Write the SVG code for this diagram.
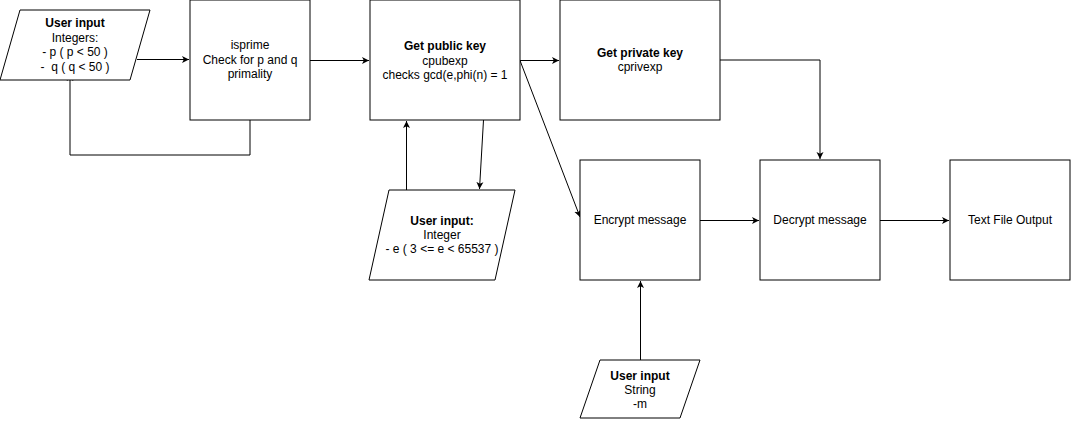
<svg xmlns="http://www.w3.org/2000/svg" width="1071" height="421" viewBox="0 0 1071 421">
<style>
.n{fill:#fff;stroke:#000;stroke-width:1}
.c{fill:none;stroke:#000;stroke-width:1}
text{font-family:"Liberation Sans",Arial,sans-serif;font-size:12px;fill:#000;text-anchor:middle}
.b{font-weight:bold}
</style>
<defs>
<marker id="a" viewBox="0 0 8 8" refX="7" refY="4" markerWidth="8" markerHeight="8" markerUnits="userSpaceOnUse" orient="auto">
<path d="M0,0.5 L7,4 L0,7.5 L1.8,4 Z" fill="#000"/>
</marker>
</defs>
<rect width="1071" height="421" fill="#fff"/>
<g id="connectors">
<path class="c" d="M137,59.5 H189" marker-end="url(#a)"/>
<path class="c" d="M250,120 V155 H70 V74" marker-end="url(#a)"/>
<path class="c" d="M310,60.5 H369" marker-end="url(#a)"/>
<path class="c" d="M520,60.5 H559" marker-end="url(#a)"/>
<path class="c" d="M520,60.5 L580,217" marker-end="url(#a)"/>
<path class="c" d="M406.5,190 V121" marker-end="url(#a)"/>
<path class="c" d="M483.5,120 L479.5,189" marker-end="url(#a)"/>
<path class="c" d="M720,60 H820 V159" marker-end="url(#a)"/>
<path class="c" d="M700,220.5 H759" marker-end="url(#a)"/>
<path class="c" d="M880,220.5 H949" marker-end="url(#a)"/>
<path class="c" d="M640.5,360 V281" marker-end="url(#a)"/>
</g>
<g id="input-pq">
<path class="n" d="M20,10 H150 L130,80 H0 Z"/>
<text x="75" y="27" class="b">User input</text>
<text x="75" y="42">Integers:</text>
<text x="75" y="56">- p ( p &lt; 50 )</text>
<text x="75" y="71" xml:space="preserve">-  q ( q &lt; 50 )</text>
</g>
<g id="isprime">
<rect class="n" x="190" y="0" width="120" height="120"/>
<text x="250" y="49">isprime</text>
<text x="250" y="64">Check for p and q</text>
<text x="250" y="78">primality</text>
</g>
<g id="public-key">
<rect class="n" x="370" y="0" width="150" height="120"/>
<text x="445" y="50" class="b">Get public key</text>
<text x="445" y="65">cpubexp</text>
<text x="445" y="79">checks gcd(e,phi(n) = 1</text>
</g>
<g id="private-key">
<rect class="n" x="560" y="0" width="160" height="120"/>
<text x="640" y="57" class="b">Get private key</text>
<text x="640" y="71">cprivexp</text>
</g>
<g id="input-e">
<path class="n" d="M389,190 H515 L495,280 H369 Z"/>
<text x="442" y="225" class="b">User input:</text>
<text x="442" y="239">Integer</text>
<text x="442" y="253">- e ( 3 &lt;= e &lt; 65537 )</text>
</g>
<g id="encrypt">
<rect class="n" x="580" y="160" width="120" height="120"/>
<text x="640" y="224">Encrypt message</text>
</g>
<g id="decrypt">
<rect class="n" x="760" y="160" width="120" height="120"/>
<text x="820" y="224">Decrypt message</text>
</g>
<g id="output">
<rect class="n" x="950" y="160" width="120" height="120"/>
<text x="1010" y="224">Text File Output</text>
</g>
<g id="input-m">
<path class="n" d="M600,360 H700 L680,418 H580 Z"/>
<text x="640" y="380" class="b">User input</text>
<text x="640" y="394">String</text>
<text x="640" y="408">-m</text>
</g>
</svg>
